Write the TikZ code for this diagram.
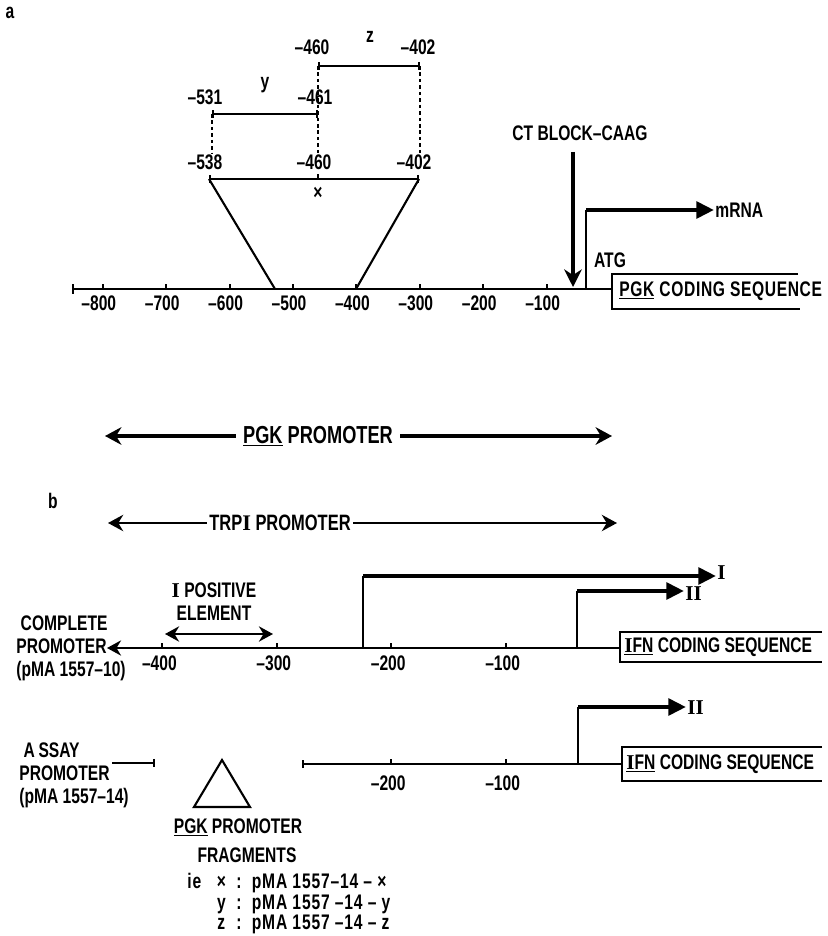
\documentclass[tikz,border=0pt]{standalone}
\usepackage{fontspec}
\setmainfont{Liberation Serif}
\setsansfont[FakeStretch=0.74]{Liberation Sans}
\usepackage{tikz}
\usetikzlibrary{arrows.meta}

\newcommand{\figfont}{\fontsize{18}{19.5}\selectfont\sffamily\bfseries}
\newcommand{\rmI}{\textrm{\bfseries I}}

\tikzset{
  lbl/.style={inner sep=1pt},
  bigtxt/.style={font=\figfont\fontsize{21}{22}\selectfont},
  midtxt/.style={font=\figfont\fontsize{19}{20}\selectfont},
  axisline/.style={line width=1.8pt},
  dashline/.style={line width=1.5pt, dash pattern=on 3pt off 2.5pt},
  fragbar/.style={line width=1.8pt, {Bar[width=7pt]}-{Bar[width=7pt]}},
  tss/.style={line width=3.6pt, -{Triangle[length=15pt, width=14pt]}},
  blockarrow/.style={line width=3pt, -{Stealth[length=15pt, width=15pt]}},
  promo/.style={line width=2.6pt, -{Stealth[length=14pt, width=15pt]}},
  trpline/.style={line width=1.6pt, -{Stealth[length=13pt, width=14pt]}},
  dblarrow/.style={line width=2.4pt, {Stealth[length=12pt, width=13pt]}-{Stealth[length=12pt, width=13pt]}},
}

\begin{document}
\begin{tikzpicture}[x=0.03cm, y=-0.03cm, >=Stealth, font=\figfont]
  \useasboundingbox (0,0) rectangle (827,936);

  % ---- panel a ----
  \node[lbl] (pa) at (10,13) {a};

  % fragments x, y and z of the region
  \coordinate (x538) at (209,179);
  \coordinate (x402) at (419,179);
  \coordinate (y531) at (212,114);
  \coordinate (y461) at (318,114);
  \coordinate (z460) at (318,66);
  \coordinate (z402) at (420,66);
  \draw[fragbar] (x538) -- (x402);
  \draw[fragbar] (y531) -- (y461);
  \draw[fragbar] (z460) -- (z402);
  \coordinate (x460) at (318,179);
  \draw[axisline] (x460) -- ++(0,-5);

  \coordinate (d1) at (212,153);
  \coordinate (d2) at (318,153);
  \coordinate (d3) at (420,153);
  \draw[dashline] (y531) -- (d1);
  \draw[dashline] (z460) -- (d2);
  \draw[dashline] (z402) -- (d3);

  \node[lbl] (l538) at (205,162) {--538};
  \node[lbl] (l460) at (314,162) {--460};
  \node[lbl] (l402) at (414,162) {--402};
  \node[lbl] (xlab) at (318,193) {×};
  \node[lbl] (l531) at (205,97) {--531};
  \node[lbl] (ylab) at (265,85) {y};
  \node[lbl] (l461) at (315,97) {--461};
  \node[lbl] (l460z) at (312,47) {--460};
  \node[lbl] (zlab) at (370,37) {z};
  \node[lbl] (l402z) at (418,47) {--402};

  % PGK axis
  \coordinate (aend) at (72,289);
  \coordinate (a0) at (612,289);
  \draw[axisline, {Bar[width=8pt]}-] (aend) -- (a0);
  \foreach \k in {1,...,8}{
    \coordinate (at\k) at ({610-63.4*\k},289);
    \draw[axisline] (at\k) -- ++(0,-5);
    \node[lbl] (al\k) at ({606-63.4*\k},303) {--\k00};
  }
  \coordinate (p538) at (275,289);
  \coordinate (p402) at (356,289);
  \draw[axisline] (x538) -- (p538);
  \draw[axisline] (x402) -- (p402);

  % coding sequence
  \draw[axisline] (798,274) -| (612,309) -- (800,309);
  \node[lbl, anchor=west] (pgkcs) at (618,291) {\addfontfeature{LetterSpace=3}\underline{PGK} CODING SEQUENCE};

  % CT block and start site
  \node[lbl] (ct) at (580,133) {CT BLOCK--CAAG};
  \coordinate (cttop) at (573,152);
  \coordinate (ctbot) at (573,287);
  \draw[blockarrow] (cttop) -- (ctbot);
  \coordinate (atg) at (586,289);
  \coordinate (atgtop) at (586,210);
  \node[lbl, anchor=west] (mrna) at (714,210) {mRNA};
  \draw[axisline] (atg) -- (atgtop);
  \draw[tss] (atgtop) -- (atgtop -| mrna.west);
  \node[lbl] (atglab) at (610,260) {ATG};

  % promoter extents
  \node[lbl, bigtxt, inner sep=6pt] (pgkp) at (318,436) {\underline{PGK} PROMOTER};
  \coordinate (pgkl) at (105,436);
  \coordinate (pgkr) at (612,436);
  \draw[promo] (pgkp) -- (pgkl);
  \draw[promo] (pgkp) -- (pgkr);

  % ---- panel b ----
  \node[lbl] (pb) at (53,501) {b};
  \node[lbl, midtxt, inner sep=2pt] (trp) at (280,523) {TRP\rmI{} PROMOTER};
  \coordinate (trpl) at (108,523);
  \coordinate (trpr) at (617,523);
  \draw[trpline] (trp) -- (trpl);
  \draw[trpline] (trp) -- (trpr);

  % complete promoter
  \node[lbl, anchor=west, align=left] (cplab) at (15,648) {\ COMPLETE\\PROMOTER\\(pMA 1557--10)};
  \coordinate (c0) at (620,648);
  \coordinate (cend) at (107,648);
  \draw[axisline, -{Stealth[length=12pt, width=13pt]}] (c0) -- (cend);
  \foreach \k in {1,...,4}{
    \coordinate (ct\k) at ({620-114.4*\k},648);
    \draw[axisline] (ct\k) -- ++(0,-5);
    \node[lbl] (cl\k) at ({617-114.4*\k},663) {--\k00};
  }
  \node[lbl, align=center] (pos) at (214,602) {\rmI\ POSITIVE\\ELEMENT};
  \coordinate (posl) at (165,634);
  \coordinate (posr) at (273,634);
  \draw[dblarrow] (posl) -- (posr);

  \coordinate (cI) at (363,648);
  \coordinate (cItop) at (363,576);
  \node[lbl, anchor=west] (tI) at (716,573) {\rmI};
  \draw[axisline] (cI) -- (cItop);
  \draw[tss] (cItop) -- (cItop -| tI.west);
  \coordinate (cII) at (577,648);
  \coordinate (cIItop) at (577,591);
  \node[lbl, anchor=west] (tII) at (684,594) {\rmI\rmI};
  \draw[axisline] (cII) -- (cIItop);
  \draw[tss] (cIItop) -- (cIItop -| tII.west);

  \draw[axisline] (822,632) -| (620,662) -- (822,662);
  \node[lbl, anchor=west] (ifna) at (623,647) {\underline{\rmI FN} CODING SEQUENCE};

  % assay promoter
  \node[lbl, anchor=west, align=left] (aslab) at (18,775) {\ A\,SSAY\\PROMOTER\\(pMA 1557--14)};
  \coordinate (as1) at (112,763);
  \coordinate (as2) at (155,763);
  \draw[axisline, -{Bar[width=7pt]}] (as1) -- (as2);
  \coordinate (d0) at (622,764);
  \coordinate (dend) at (302,764);
  \draw[axisline, {Bar[width=7pt]}-] (dend) -- (d0);
  \foreach \k in {1,2}{
    \coordinate (dt\k) at ({620-114.4*\k},764);
    \draw[axisline] (dt\k) -- ++(0,-5);
    \node[lbl] (dl\k) at ({617-114.4*\k},783) {--\k00};
  }
  \coordinate (dII) at (578,764);
  \coordinate (dIItop) at (578,707);
  \node[lbl, anchor=west] (tIIb) at (686,708) {\rmI\rmI};
  \draw[axisline] (dII) -- (dIItop);
  \draw[tss] (dIItop) -- (dIItop -| tIIb.west);
  \draw[axisline] (822,747) -| (622,781) -- (822,781);
  \node[lbl, anchor=west] (ifnb) at (625,764) {\underline{\rmI FN} CODING SEQUENCE};

  % inserted fragments
  \draw[axisline, line join=miter] (222,760) -- (194,807) -- (250,807) -- cycle;
  \node[lbl] (frag) at (238,827) {\underline{PGK} PROMOTER};
  \node[lbl] (fragb) at (247,855) {FRAGMENTS};
  \node[lbl, anchor=north west] (ielist) at (186,872) {%
    \fontsize{18}{17}\selectfont\addfontfeature{LetterSpace=4}
    \begin{tabular}{@{}l@{\ \ \ }c@{\ \ :\ \ }l@{}}
      ie & × & pMA 1557--14 -- ×\\
         & y & pMA 1557 --14 -- y\\
         & z & pMA 1557 --14 -- z
    \end{tabular}};
\end{tikzpicture}
\end{document}
